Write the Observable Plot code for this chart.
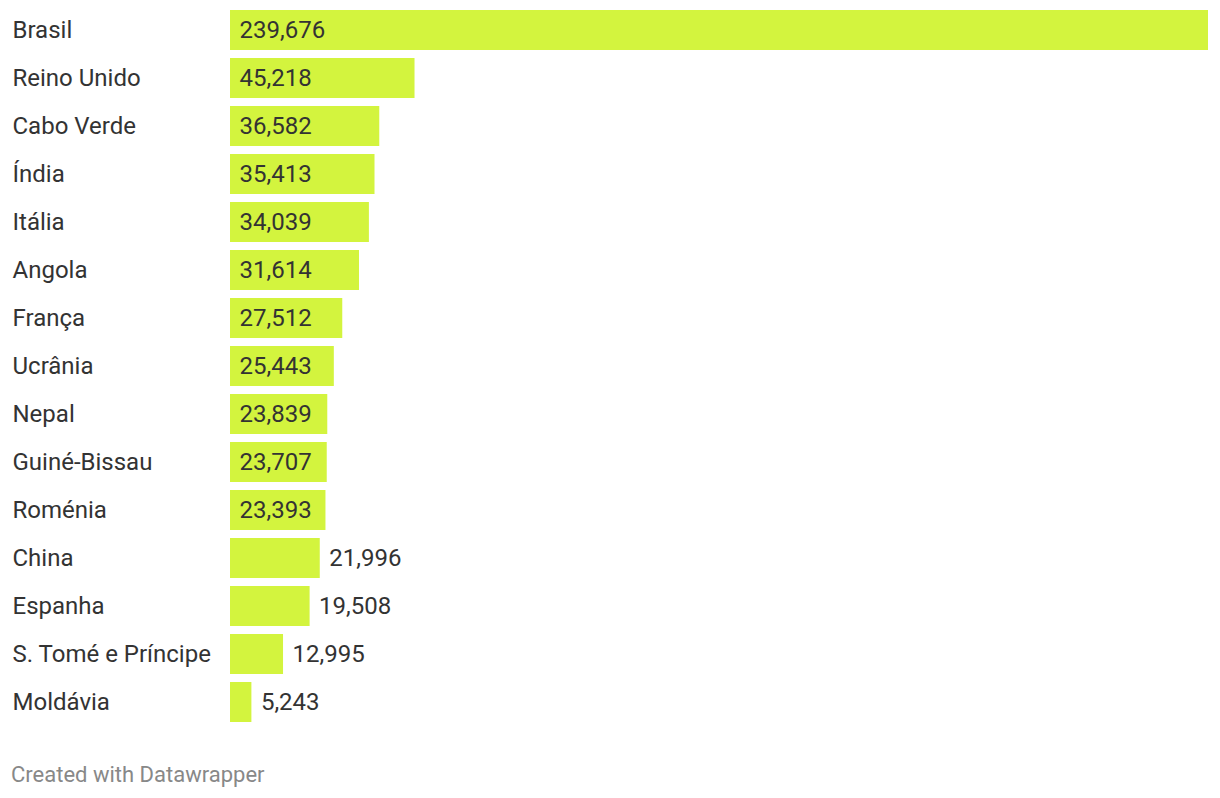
<!DOCTYPE html>
<html>
<head>
<meta charset="utf-8">
<script src="https://cdn.jsdelivr.net/npm/d3@7"></script>
<script src="https://cdn.jsdelivr.net/npm/@observablehq/plot@0.6"></script>
<style>
  html, body { margin: 0; padding: 0; background: #fff; }
  #chart svg { display: block; }
  #footer { font-family: Roboto, sans-serif; font-size: 22px; color: #888; margin: 32px 0 0 11px; line-height: 1.2; }
</style>
</head>
<body>
<div id="chart"></div>
<div id="footer">Created with Datawrapper</div>
<script>
const countries = ["Brasil", "Reino Unido", "Cabo Verde", "Índia", "Itália", "Angola", "França", "Ucrânia", "Nepal", "Guiné-Bissau", "Roménia", "China", "Espanha", "S. Tomé e Príncipe", "Moldávia"];
const values = [239676, 45218, 36582, 35413, 34039, 31614, 27512, 25443, 23839, 23707, 23393, 21996, 19508, 12995, 5243];

const data = countries.map((c, i) => ({country: c, value: values[i]}));
const fmt = d3.format(",");
const insideMin = 23000;

const chart = Plot.plot({
  width: 1220,
  height: 730,
  marginLeft: 230,
  marginRight: 12,
  marginTop: 2,
  marginBottom: 0,
  style: {fontFamily: "Roboto, sans-serif", fontSize: "24px", color: "#333", background: "#fff"},
  x: {domain: [0, 239676], axis: null},
  y: {domain: countries, axis: null, padding: 1/6, round: false},
  marks: [
    Plot.barX(data, {x: "value", y: "country", fill: "#d3f43e"}),
    Plot.text(data, {y: "country", text: "country", frameAnchor: "left", dx: -218, textAnchor: "start", fill: "#333", fontSize: 24}),
    Plot.text(data, {
      y: "country",
      x: d => d.value >= insideMin ? 0 : d.value,
      text: d => fmt(d.value),
      dx: 9,
      textAnchor: "start",
      fill: "#333",
      fontSize: 24
    })
  ]
});
document.getElementById("chart").appendChild(chart);
</script>
</body>
</html>
